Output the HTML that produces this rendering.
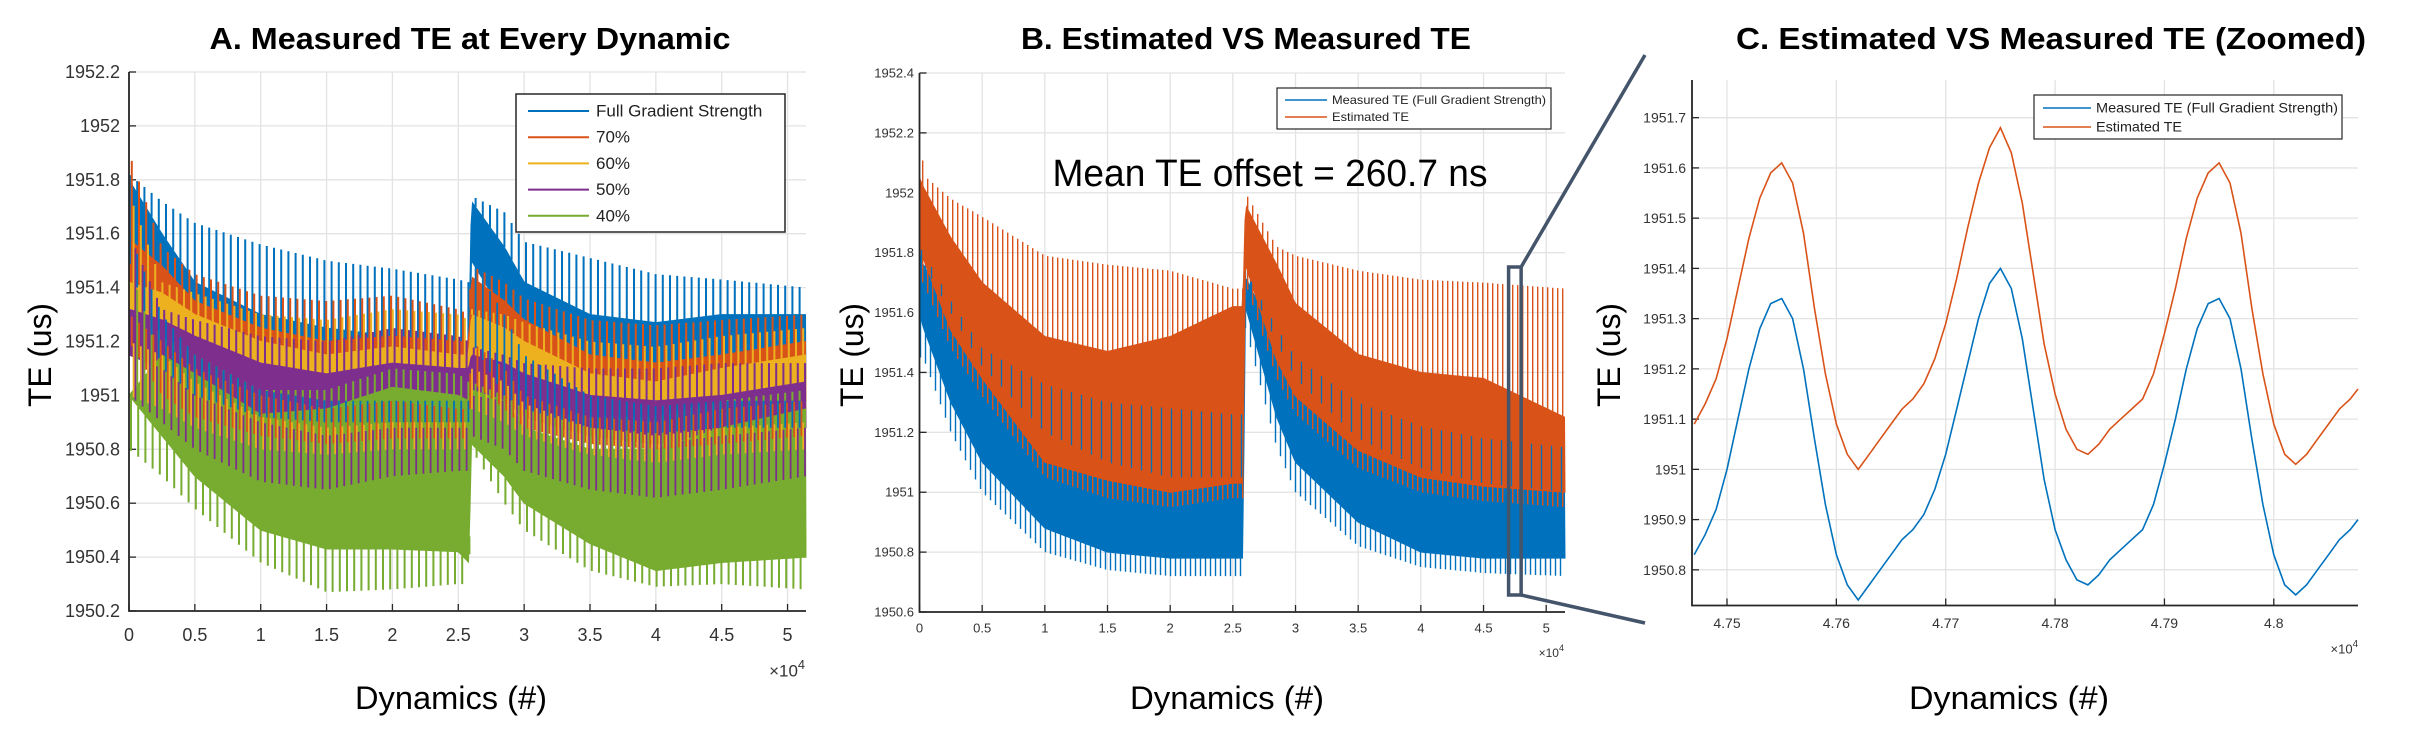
<!DOCTYPE html>
<html><head><meta charset="utf-8"><title>TE charts</title>
<style>
html,body{margin:0;padding:0;background:#fff;}
svg{display:block;font-family:"Liberation Sans",sans-serif;}
</style></head>
<body>
<svg id="chart" xmlns="http://www.w3.org/2000/svg" width="2414" height="738" viewBox="0 0 2414 738">
<rect x="0" y="0" width="2414" height="738" fill="#fff"/>
</svg>
<script>
// ---------- Panel A data ----------
const aKnots = [0,0.25,0.5,1,1.5,2,2.5,2.58,2.6,2.85,3,3.5,4,4.5,5.14];
const aSeriesNames = ["Full Gradient Strength","70%","60%","50%","40%"];
const aFullSpikeTop = [1951.82,1951.72,1951.64,1951.56,1951.50,1951.47,1951.43,1951.42,1951.74,1951.68,1951.57,1951.51,1951.45,1951.43,1951.40];
const aFullBandTop  = [1951.80,1951.60,1951.42,1951.30,1951.25,1951.22,1951.20,1951.20,1951.72,1951.55,1951.42,1951.30,1951.27,1951.30,1951.30];
const aFullBandBot  = [1951.60,1951.30,1951.15,1951.02,1950.98,1950.98,1950.98,1950.98,1951.50,1951.30,1951.15,1951.00,1950.96,1950.98,1950.98];
const aFullSpikeBot = [1951.50,1951.10,1951.00,1950.92,1950.90,1950.90,1950.90,1950.90,1951.20,1951.00,1950.95,1950.88,1950.86,1950.88,1950.88];
const a70SpikeTop = [1951.90,1951.55,1951.45,1951.37,1951.35,1951.37,1951.32,1951.30,1951.48,1951.42,1951.36,1951.28,1951.26,1951.28,1951.30];
const a70BandTop  = [1951.58,1951.48,1951.35,1951.25,1951.20,1951.22,1951.20,1951.20,1951.44,1951.35,1951.28,1951.15,1951.12,1951.15,1951.20];
const a70BandBot  = [1951.30,1951.20,1951.10,1951.00,1950.95,1950.98,1950.95,1950.95,1951.20,1951.10,1951.00,1950.92,1950.90,1950.95,1950.98];
const a70SpikeBot = [1951.20,1951.00,1950.92,1950.85,1950.82,1950.84,1950.84,1950.84,1951.05,1950.95,1950.88,1950.82,1950.80,1950.82,1950.85];
const a60SpikeTop = [1951.75,1951.42,1951.38,1951.30,1951.28,1951.32,1951.30,1951.28,1951.32,1951.30,1951.27,1951.20,1951.18,1951.22,1951.25];
const a60BandTop  = [1951.42,1951.38,1951.30,1951.20,1951.15,1951.18,1951.15,1951.15,1951.30,1951.25,1951.20,1951.08,1951.05,1951.10,1951.15];
const a60BandBot  = [1951.20,1951.15,1951.05,1950.92,1950.88,1950.90,1950.90,1950.90,1951.10,1951.05,1950.97,1950.88,1950.85,1950.88,1950.90];
const a60SpikeBot = [1951.00,1950.95,1950.88,1950.80,1950.78,1950.80,1950.80,1950.80,1950.95,1950.90,1950.85,1950.78,1950.75,1950.78,1950.80];
const a50SpikeTop = [1951.60,1951.32,1951.28,1951.22,1951.20,1951.25,1951.22,1951.20,1951.18,1951.15,1951.12,1951.10,1951.10,1951.12,1951.12];
const a50BandTop  = [1951.32,1951.28,1951.22,1951.12,1951.08,1951.12,1951.10,1951.10,1951.15,1951.12,1951.08,1951.00,1950.98,1951.00,1951.05];
const a50BandBot  = [1951.15,1951.10,1951.00,1950.90,1950.85,1950.88,1950.88,1950.88,1951.00,1950.98,1950.92,1950.85,1950.82,1950.85,1950.88];
const a50SpikeBot = [1951.00,1950.90,1950.80,1950.68,1950.65,1950.70,1950.72,1950.72,1950.85,1950.80,1950.72,1950.65,1950.62,1950.65,1950.70];
const a40SpikeTop = [1951.45,1951.22,1951.15,1951.02,1951.02,1951.10,1951.08,1951.05,1951.05,1951.00,1950.95,1950.92,1950.92,1950.98,1951.02];
const a40BandTop  = [1951.00,1951.15,1951.08,1950.93,1950.95,1951.03,1951.00,1950.98,1951.02,1950.98,1950.88,1950.80,1950.80,1950.88,1950.95];
const a40BandBot  = [1951.00,1950.85,1950.70,1950.50,1950.43,1950.43,1950.42,1950.38,1950.82,1950.70,1950.60,1950.45,1950.35,1950.38,1950.40];
const a40SpikeBot = [1950.80,1950.70,1950.58,1950.38,1950.27,1950.28,1950.30,1950.30,1950.80,1950.60,1950.50,1950.35,1950.29,1950.30,1950.28];
const aXTicks = [0,0.5,1,1.5,2,2.5,3,3.5,4,4.5,5];
const aXTickLabels = ["0","0.5","1","1.5","2","2.5","3","3.5","4","4.5","5"];
const aYTicks = [1950.2,1950.4,1950.6,1950.8,1951,1951.2,1951.4,1951.6,1951.8,1952,1952.2];
const aYTickLabels = ["1950.2","1950.4","1950.6","1950.8","1951","1951.2","1951.4","1951.6","1951.8","1952","1952.2"];

// ---------- Panel B data ----------
const bKnots = [0,0.03,0.25,0.5,1,1.5,2,2.5,2.58,2.6,2.85,3,3.5,4,4.5,5.15];
const bMeasSpikeTop = [1951.82,1951.80,1951.64,1951.48,1951.36,1951.30,1951.28,1951.26,1951.26,1951.74,1951.55,1951.45,1951.30,1951.22,1951.18,1951.15];
const bMeasBandTop  = [1951.78,1951.76,1951.60,1951.42,1951.20,1951.10,1951.05,1951.05,1951.05,1951.72,1951.50,1951.38,1951.18,1951.08,1951.03,1951.00];
const bMeasBandBot  = [1951.60,1951.55,1951.30,1951.10,1950.88,1950.80,1950.78,1950.78,1950.78,1951.62,1951.25,1951.10,1950.90,1950.80,1950.78,1950.78];
const bMeasSpikeBot = [1951.45,1951.45,1951.20,1951.00,1950.80,1950.74,1950.72,1950.72,1950.72,1951.55,1951.15,1951.00,1950.82,1950.75,1950.73,1950.72];
const bEstSpikeTop = [1952.38,1952.06,1951.98,1951.92,1951.79,1951.76,1951.74,1951.68,1951.68,1952.00,1951.82,1951.79,1951.74,1951.71,1951.70,1951.68];
const bEstBandTop  = [1952.05,1952.02,1951.85,1951.70,1951.52,1951.47,1951.52,1951.62,1951.62,1951.96,1951.76,1951.63,1951.46,1951.40,1951.38,1951.25];
const bEstBandBot  = [1951.80,1951.78,1951.54,1951.38,1951.10,1951.04,1951.00,1951.03,1951.03,1951.76,1951.44,1951.32,1951.14,1951.05,1951.02,1951.00];
const bEstSpikeBot = [1951.70,1951.70,1951.48,1951.32,1951.05,1950.98,1950.95,1950.98,1950.98,1951.70,1951.38,1951.26,1951.08,1951.00,1950.97,1950.95];
const bXTicks = [0,0.5,1,1.5,2,2.5,3,3.5,4,4.5,5];
const bXTickLabels = ["0","0.5","1","1.5","2","2.5","3","3.5","4","4.5","5"];
const bYTicks = [1950.6,1950.8,1951,1951.2,1951.4,1951.6,1951.8,1952,1952.2,1952.4];
const bYTickLabels = ["1950.6","1950.8","1951","1951.2","1951.4","1951.6","1951.8","1952","1952.2","1952.4"];

// ---------- Panel C data ----------
const cX = [4.747,4.748,4.749,4.750,4.751,4.752,4.753,4.754,4.755,4.756,4.757,4.758,4.759,4.760,4.761,4.762,4.763,4.764,4.765,4.766,4.767,4.768,4.769,4.770,4.771,4.772,4.773,4.774,4.775,4.776,4.777,4.778,4.779,4.780,4.781,4.782,4.783,4.784,4.785,4.786,4.787,4.788,4.789,4.790,4.791,4.792,4.793,4.794,4.795,4.796,4.797,4.798,4.799,4.800,4.801,4.802,4.803,4.804,4.805,4.806,4.807,4.8077];
const cMeasured = [1950.83,1950.87,1950.92,1951.00,1951.10,1951.20,1951.28,1951.33,1951.34,1951.30,1951.20,1951.06,1950.93,1950.83,1950.77,1950.74,1950.77,1950.80,1950.83,1950.86,1950.88,1950.91,1950.96,1951.03,1951.12,1951.21,1951.30,1951.37,1951.40,1951.36,1951.26,1951.12,1950.98,1950.88,1950.82,1950.78,1950.77,1950.79,1950.82,1950.84,1950.86,1950.88,1950.93,1951.01,1951.10,1951.20,1951.28,1951.33,1951.34,1951.30,1951.20,1951.06,1950.93,1950.83,1950.77,1950.75,1950.77,1950.80,1950.83,1950.86,1950.88,1950.90];
const cEstimated = [1951.09,1951.13,1951.18,1951.26,1951.36,1951.46,1951.54,1951.59,1951.61,1951.57,1951.47,1951.32,1951.19,1951.09,1951.03,1951.00,1951.03,1951.06,1951.09,1951.12,1951.14,1951.17,1951.22,1951.29,1951.38,1951.48,1951.57,1951.64,1951.68,1951.63,1951.53,1951.39,1951.25,1951.15,1951.08,1951.04,1951.03,1951.05,1951.08,1951.10,1951.12,1951.14,1951.19,1951.27,1951.36,1951.46,1951.54,1951.59,1951.61,1951.57,1951.47,1951.32,1951.19,1951.09,1951.03,1951.01,1951.03,1951.06,1951.09,1951.12,1951.14,1951.16];
const cXTicks = [4.75,4.76,4.77,4.78,4.79,4.8];
const cXTickLabels = ["4.75","4.76","4.77","4.78","4.79","4.8"];
const cYTicks = [1950.8,1950.9,1951,1951.1,1951.2,1951.3,1951.4,1951.5,1951.6,1951.7];
const cYTickLabels = ["1950.8","1950.9","1951","1951.1","1951.2","1951.3","1951.4","1951.5","1951.6","1951.7"];

const NS = 'http://www.w3.org/2000/svg';
const svg = document.getElementById('chart');
function mk(tag, attrs, parent) {
  const e = document.createElementNS(NS, tag);
  for (const k in attrs) e.setAttribute(k, attrs[k]);
  (parent || svg).appendChild(e);
  return e;
}
function interp(kx, ky, x) {
  if (x <= kx[0]) return ky[0];
  for (let i = 1; i < kx.length; i++) {
    if (x <= kx[i]) { const t = (x - kx[i-1]) / (kx[i] - kx[i-1]); return ky[i-1] + t * (ky[i] - ky[i-1]); }
  }
  return ky[ky.length - 1];
}
function makeScale(d0, d1, r0, r1) { return v => r0 + (v - d0) / (d1 - d0) * (r1 - r0); }

function drawAxes(P, name, xt, xl, yt, yl, fs, yLabelX, xLabelY, expoX, expoY, expoFs) {
  const g = mk('g', {});
  
  
  xt.forEach((v, i) => {
    const x = P.sx(v);
    const gl = mk('line', {x1:x, x2:x, y1:P.top, y2:P.bottom, stroke:'#e3e3e3', 'stroke-width':1.3}, g);
    
    
    const tk = mk('line', {x1:x, x2:x, y1:P.bottom, y2:P.bottom - 7, stroke:'#262626', 'stroke-width':1.3}, g);
    
    
    const t = mk('text', {x:x, y:xLabelY, 'text-anchor':'middle', 'dominant-baseline':'central', 'font-size':fs, fill:'#333'}, g);
    t.textContent = xl[i];
    
    
  });
  yt.forEach((v, i) => {
    const y = P.sy(v);
    const gl = mk('line', {x1:P.left, x2:P.right, y1:y, y2:y, stroke:'#e3e3e3', 'stroke-width':1.3}, g);
    
    
    const tk = mk('line', {x1:P.left, x2:P.left + 7, y1:y, y2:y, stroke:'#262626', 'stroke-width':1.3}, g);
    
    
    const t = mk('text', {x:yLabelX, y:y, 'text-anchor':'end', 'dominant-baseline':'central', 'font-size':fs, fill:'#333'}, g);
    t.textContent = yl[i];
    
    
  });
  const ex = mk('text', {x:expoX, y:expoY, 'text-anchor':'end', 'dominant-baseline':'central', 'font-size':expoFs, fill:'#333'}, g);
  ex.innerHTML = '×10<tspan dy="-' + (expoFs*0.4) + '" font-size="' + (expoFs*0.75) + '">4</tspan>';
  
  
}
function drawFrame(P, name) {
  const a = mk('path', {d:`M${P.left},${P.top} V${P.bottom} H${P.right}`, fill:'none', stroke:'#262626', 'stroke-width':1.8});
  
  
}
function bandPolygon(P, knots, topArr, botArr, color, parent) {
  const xmin = knots[0], xmax = knots[knots.length - 1];
  let pts = [];
  for (let px = P.sx(xmin); px <= P.sx(xmax) + 0.01; px += 1.5) pts.push([px, P.sy(interp(knots, topArr, P.ix(px)))]);
  for (let px = P.sx(xmax); px >= P.sx(xmin) - 0.01; px -= 1.5) pts.push([px, P.sy(interp(knots, botArr, P.ix(px)))]);
  return mk('polygon', {points: pts.map(p => p[0].toFixed(1) + ',' + p[1].toFixed(1)).join(' '), fill:color, stroke:color, 'stroke-width':1}, parent);
}
function spikePath(P, knots, fromArr, toArr, color, step, phase, sw, parent) {
  const xmin = knots[0], xmax = knots[knots.length - 1];
  let d = '';
  for (let px = P.sx(xmin) + phase; px <= P.sx(xmax); px += step) {
    const v = P.ix(px);
    d += `M${px.toFixed(1)},${P.sy(interp(knots, fromArr, v)).toFixed(1)}V${P.sy(interp(knots, toArr, v)).toFixed(1)}`;
  }
  return mk('path', {d:d, stroke:color, 'stroke-width':sw, fill:'none'}, parent);
}
function panel(left, right, top, bottom, x0, x1, y0, y1) {
  const P = {left, right, top, bottom};
  P.sx = makeScale(x0, x1, left, right);
  P.ix = makeScale(left, right, x0, x1);
  P.sy = makeScale(y0, y1, bottom, top);
  return P;
}
function txt(attrs, s) {
  const t = mk('text', attrs);
  t.textContent = s;
  return t;
}

// ===== Panel A =====
const PA = panel(129, 806, 72, 611, 0, 5.14, 1950.2, 1952.2);
drawAxes(PA, 'panel-a', aXTicks, aXTickLabels, aYTicks, aYTickLabels, 18, 120, 635, 805, 671, 17);
const aColors = ['#0072BD','#D95319','#EDB120','#7E2F8E','#77AC30'];
const aData = [
  [aFullSpikeTop, aFullBandTop, aFullBandBot, aFullSpikeBot],
  [a70SpikeTop, a70BandTop, a70BandBot, a70SpikeBot],
  [a60SpikeTop, a60BandTop, a60BandBot, a60SpikeBot],
  [a50SpikeTop, a50BandTop, a50BandBot, a50SpikeBot],
  [a40SpikeTop, a40BandTop, a40BandBot, a40SpikeBot]
];
const aSeriesIds = ['series-full-gradient','series-70-percent','series-60-percent','series-50-percent','series-40-percent'];
const aGroups = [];
aData.forEach((s, i) => {
  const g = mk('g', {});
  
  
  aGroups.push(g);
  const up = spikePath(PA, aKnots, s[0], s[1], aColors[i], 7.2, 1 + i * 1.8, 2, g);
  
  
  const band = bandPolygon(PA, aKnots, s[1], s[2], aColors[i], g);
  
  
  if (i === 4) {
    const lo = spikePath(PA, aKnots, s[2], s[3], aColors[i], 7.2, 2, 2, g);
    
    
  }
});
// lower oscillation spikes of the first four series, drawn interleaved over the stack
aData.slice(0, 4).forEach((s, i) => {
  const lo = spikePath(PA, aKnots, s[2], s[3], aColors[i], 7.2, 1 + i * 1.8, 1.8, aGroups[i].parentNode);
  
  
});
drawFrame(PA, 'panel-a');
{
  const g = mk('g', {});
  
  
  const r = mk('rect', {x:516, y:94, width:269, height:138, fill:'#fff', stroke:'#262626', 'stroke-width':1.5}, g);
  
  
  aSeriesNames.forEach((n, i) => {
    const y = 111 + i * 26.2;
    const ln = mk('line', {x1:528, x2:589, y1:y, y2:y, stroke:aColors[i], 'stroke-width':2}, g);
    
    
    const t = mk('text', {x:596, y:y, 'dominant-baseline':'central', 'font-size':17, fill:'#222'}, g);
    t.textContent = n;
    
    
  });
}

// ===== Panel B =====
const PB = panel(919.5, 1565, 73, 612, 0, 5.15, 1950.6, 1952.4);
drawAxes(PB, 'panel-b', bXTicks, bXTickLabels, bYTicks, bYTickLabels, 13, 914, 628, 1564, 653, 12);
{
  const gm = mk('g', {});
  
  
  const s1 = spikePath(PB, bKnots, bMeasSpikeTop, bMeasSpikeBot, '#0072BD', 5, 1, 1.4, gm);
  
  
  const b1 = bandPolygon(PB, bKnots, bMeasBandTop, bMeasBandBot, '#0072BD', gm);
  
  
  const ge = mk('g', {});
  
  
  const s2 = spikePath(PB, bKnots, bEstSpikeTop, bEstSpikeBot, '#D95319', 5, 3.2, 1.4, ge);
  
  
  const b2 = bandPolygon(PB, bKnots, bEstBandTop, bEstBandBot, '#D95319', ge);
  
  
  const s3 = spikePath(PB, bKnots, bMeasSpikeTop, bMeasBandTop, '#0072BD', 10, 2, 1.3, gm.parentNode);
  
  
}
drawFrame(PB, 'panel-b');
{
  const g = mk('g', {});
  
  
  const r = mk('rect', {x:1277, y:88, width:274, height:41, fill:'#fff', stroke:'#262626', 'stroke-width':1.2}, g);
  
  
  const names = ['Measured TE (Full Gradient Strength)', 'Estimated TE'];
  const cols = ['#0072BD', '#D95319'];
  const lens = [214, 77];
  names.forEach((n, i) => {
    const y = 100 + i * 17;
    const ln = mk('line', {x1:1285, x2:1327, y1:y, y2:y, stroke:cols[i], 'stroke-width':1.5}, g);
    
    
    const t = mk('text', {x:1332, y:y, 'dominant-baseline':'central', 'font-size':12, fill:'#222', textLength:lens[i], lengthAdjust:'spacingAndGlyphs'}, g);
    t.textContent = n;
    
    
  });
}
const meanT = txt({x:1270, y:174, 'text-anchor':'middle', 'dominant-baseline':'central', 'font-size':38, fill:'#000', textLength:435, lengthAdjust:'spacingAndGlyphs'}, 'Mean TE offset = 260.7 ns');



const zb = mk('rect', {x:PB.sx(4.7), y:267, width:PB.sx(4.8) - PB.sx(4.7), height:328, fill:'none', stroke:'#44546A', 'stroke-width':3.5});


const zl1 = mk('line', {x1:PB.sx(4.8), y1:267, x2:1645, y2:55, stroke:'#44546A', 'stroke-width':3.5});


const zl2 = mk('line', {x1:PB.sx(4.8), y1:595, x2:1645, y2:623, stroke:'#44546A', 'stroke-width':3.5});



// ===== Panel C =====
const PC = panel(1692, 2358, 80, 605.5, 4.7468, 4.8077, 1950.729, 1951.775);
drawAxes(PC, 'panel-c', cXTicks, cXTickLabels, cYTicks, cYTickLabels, 14, 1686, 623, 2358, 649, 13);
{
  const dM = cX.map((x, i) => (i ? 'L' : 'M') + PC.sx(x).toFixed(1) + ',' + PC.sy(cMeasured[i]).toFixed(1)).join('');
  const lm = mk('path', {d:dM, fill:'none', stroke:'#0072BD', 'stroke-width':1.6});
  
  
  const dE = cX.map((x, i) => (i ? 'L' : 'M') + PC.sx(x).toFixed(1) + ',' + PC.sy(cEstimated[i]).toFixed(1)).join('');
  const le = mk('path', {d:dE, fill:'none', stroke:'#D95319', 'stroke-width':1.6});
  
  
}
drawFrame(PC, 'panel-c');
{
  const g = mk('g', {});
  
  
  const r = mk('rect', {x:2034, y:95, width:308, height:44, fill:'#fff', stroke:'#262626', 'stroke-width':1.2}, g);
  
  
  const names = ['Measured TE (Full Gradient Strength)', 'Estimated TE'];
  const cols = ['#0072BD', '#D95319'];
  const lens = [242, 86];
  names.forEach((n, i) => {
    const y = 108 + i * 19;
    const ln = mk('line', {x1:2043, x2:2091, y1:y, y2:y, stroke:cols[i], 'stroke-width':1.5}, g);
    
    
    const t = mk('text', {x:2096, y:y, 'dominant-baseline':'central', 'font-size':13.5, fill:'#222', textLength:lens[i], lengthAdjust:'spacingAndGlyphs'}, g);
    t.textContent = n;
    
    
  });
}

// ===== Titles and axis labels =====
const titles = [
  [470, 'A. Measured TE at Every Dynamic', 521, 'panel-a-title'],
  [1246, 'B. Estimated VS Measured TE', 450, 'panel-b-title'],
  [2051, 'C. Estimated VS Measured TE (Zoomed)', 630, 'panel-c-title']
];
titles.forEach(t => {
  const e = txt({x:t[0], y:49, 'text-anchor':'middle', 'font-size':31, 'font-weight':'bold', fill:'#000', textLength:t[2], lengthAdjust:'spacingAndGlyphs'}, t[1]);
  
  
});
[[451, 192, 'panel-a-x-axis-title'], [1227, 194, 'panel-b-x-axis-title'], [2009, 200, 'panel-c-x-axis-title']].forEach(t => {
  const e = txt({x:t[0], y:698, 'text-anchor':'middle', 'dominant-baseline':'central', 'font-size':32, fill:'#000', textLength:t[1], lengthAdjust:'spacingAndGlyphs'}, 'Dynamics (#)');
  
  
});
[[40, 'panel-a-y-axis-title'], [852, 'panel-b-y-axis-title'], [1609, 'panel-c-y-axis-title']].forEach(t => {
  const e = txt({x:0, y:0, 'text-anchor':'middle', 'dominant-baseline':'central', 'font-size':32, fill:'#000', textLength:104, lengthAdjust:'spacingAndGlyphs', transform:`translate(${t[0]},355) rotate(-90)`}, 'TE (us)');
  
  
});
</script>
</body></html>
